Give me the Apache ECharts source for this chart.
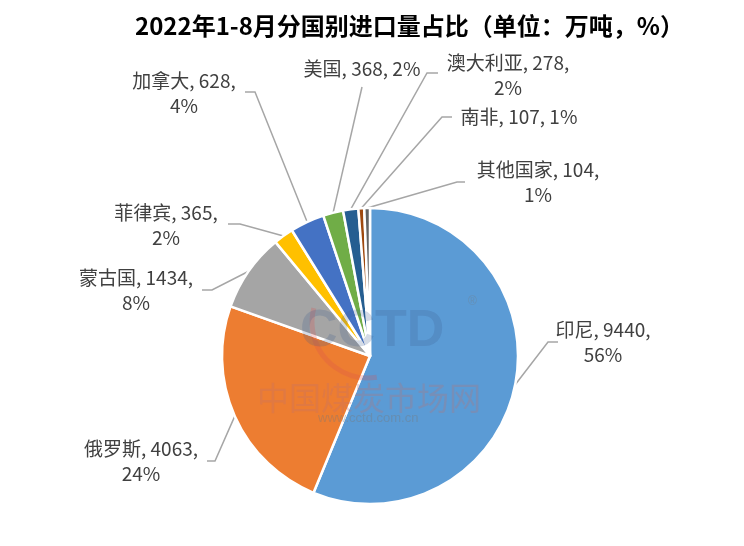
<!DOCTYPE html>
<html>
<head>
<meta charset="utf-8">
<script src="https://cdn.jsdelivr.net/npm/echarts@6/dist/echarts.min.js"></script>
<style>
  html, body { margin: 0; padding: 0; background: #fff; }
  #main { width: 744px; height: 546px; }
</style>
</head>
<body>
<div id="main"></div>
<script>
// 国别与进口量（万吨）
var countries = ['印尼', '俄罗斯', '蒙古国', '菲律宾', '加拿大', '美国', '澳大利亚', '南非', '其他国家'];
var amounts = [9440, 4063, 1434, 365, 628, 368, 278, 107, 104];
var percents = ['56%', '24%', '8%', '2%', '4%', '2%', '2%', '1%', '1%'];
var colors = ['#5B9BD5', '#ED7D31', '#A5A5A5', '#FFC000', '#4472C4', '#70AD47', '#255E91', '#9E480E', '#636363'];

// 标签位置（文字中心）和引导线的拐点、终点
var labelPos = [
    {x: 603, y: 342, elbow: [548, 342], end: [558, 342], twoLine: true},
    {x: 141, y: 461, elbow: [215, 461], end: [207, 461], twoLine: true},
    {x: 136, y: 290, elbow: [212, 290], end: [202, 290], twoLine: true},
    {x: 166, y: 225, elbow: [240, 224], end: [228, 224], twoLine: true},
    {x: 184, y: 93, elbow: [255, 92], end: [245, 92], twoLine: true},
    {x: 362, y: 69, elbow: [362, 87], end: [362, 87], twoLine: false},
    {x: 508, y: 75, elbow: [427, 73], end: [438, 73], twoLine: true},
    {x: 519, y: 117, elbow: [442, 117], end: [452, 117], twoLine: false},
    {x: 538, y: 182, elbow: [457, 182], end: [465, 182], twoLine: true}
];

var pieData = [];
for (var i = 0; i < countries.length; i++) {
    pieData.push({
        name: countries[i],
        value: amounts[i],
        pct: percents[i],
        itemStyle: {color: colors[i]}
    });
}

var myChart = echarts.init(document.getElementById('main'));
var option = {
    backgroundColor: '#fff',
    animation: false,
    title: {
        text: '2022年1-8月分国别进口量占比（单位：万吨，%）',
        left: 130,
        top: 8,
        textStyle: {
            fontFamily: 'Noto Sans CJK SC',
            fontSize: 24,
            fontWeight: 'bold',
            color: '#000',
            lineHeight: 26
        }
    },
    // 水印
    graphic: [{
        type: 'text',
        z: 100,
        silent: true,
        left: 300,
        top: 306,
        style: {
            text: 'CCTD',
            font: 'bold 52px "Liberation Sans"',
            fill: 'rgba(60,90,140,0.22)'
        }
    }, {
        type: 'arc',
        z: 99,
        silent: true,
        shape: {cx: 368, cy: 322, r: 56, startAngle: Math.PI * 0.45, endAngle: Math.PI * 1.08},
        style: {stroke: 'rgba(220,80,80,0.25)', lineWidth: 5, fill: 'transparent'}
    }, {
        type: 'text',
        z: 100,
        silent: true,
        left: 468,
        top: 296,
        style: {
            text: '®',
            font: '12px "Liberation Sans"',
            fill: 'rgba(120,120,120,0.35)'
        }
    }, {
        type: 'text',
        z: 100,
        silent: true,
        left: 257,
        top: 382,
        style: {
            text: '中国煤炭市场网',
            font: '32px "Noto Sans CJK SC"',
            fill: 'rgba(190,110,110,0.28)'
        }
    }, {
        type: 'text',
        z: 100,
        silent: true,
        left: 318,
        top: 412,
        style: {
            text: 'www.cctd.com.cn',
            font: '13px "Liberation Sans"',
            fill: 'rgba(120,120,120,0.38)'
        }
    }],
    series: [{
        name: '进口量',
        type: 'pie',
        center: [370, 356],
        radius: 148,
        startAngle: 90,
        clockwise: true,
        data: pieData,
        itemStyle: {
            borderColor: '#fff',
            borderWidth: 2.5
        },
        label: {
            show: true,
            color: '#404040',
            fontFamily: 'Noto Sans CJK SC',
            fontSize: 19,
            lineHeight: 25,
            align: 'center',
            formatter: function (params) {
                var p = labelPos[params.dataIndex];
                var sep = p.twoLine ? ',\n' : ', ';
                return params.name + ', ' + params.value + sep + params.data.pct;
            }
        },
        labelLine: {
            show: true,
            length: 10,
            length2: 10,
            lineStyle: {color: '#A6A6A6', width: 1.5}
        },
        labelLayout: function (params) {
            var p = labelPos[params.dataIndex];
            var pts = params.labelLinePoints;
            var start = pts ? pts[0] : p.elbow;
            return {
                x: p.x,
                y: p.y,
                align: 'center',
                verticalAlign: 'middle',
                labelLinePoints: [start, p.elbow, p.end]
            };
        }
    }]
};
myChart.setOption(option, true);
</script>
</body>
</html>
